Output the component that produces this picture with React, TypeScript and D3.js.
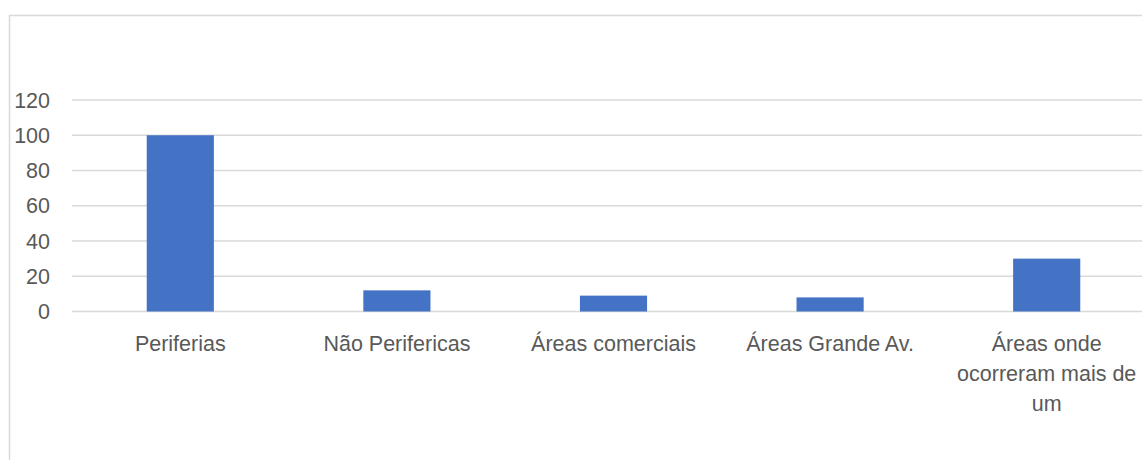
import React, { useEffect, useRef } from "react";
import * as d3 from "d3";

const categories = [
  "Periferias",
  "Não Perifericas",
  "Áreas comerciais",
  "Áreas Grande Av.",
  "Áreas onde ocorreram mais de um",
];
const values = [100, 12, 9, 8, 30];
const yTicks = [0, 20, 40, 60, 80, 100, 120];

const W = 1142;
const H = 460;
const FONT = "'Liberation Sans', Arial, sans-serif";
const FS = 21.5;

export default function App() {
  const ref = useRef<SVGSVGElement>(null);

  useEffect(() => {
    const svg = d3.select(ref.current);
    svg.selectAll("*").remove();

    // chart frame (extends beyond right/bottom)
    svg
      .append("rect")
      .attr("x", 9.5)
      .attr("y", 15.5)
      .attr("width", W + 20)
      .attr("height", H + 20)
      .attr("fill", "#fff")
      .attr("stroke", "#d9d9d9")
      .attr("stroke-width", 1.5);

    const left = 72;
    const right = 1155;
    const y0 = 311.5;
    const yTop = 100;

    const x = d3.scaleBand<string>().domain(categories).range([left, right]).paddingInner(0.69).paddingOuter(0.345);
    const y = d3.scaleLinear().domain([0, 120]).range([y0, yTop]);

    const g = svg.append("g");

    g.selectAll("line.grid")
      .data(yTicks)
      .join("line")
      .attr("class", "grid")
      .attr("x1", left)
      .attr("x2", W)
      .attr("y1", (d) => y(d))
      .attr("y2", (d) => y(d))
      .attr("stroke", "#d9d9d9")
      .attr("stroke-width", 1.5);

    g.selectAll("text.ytick")
      .data(yTicks)
      .join("text")
      .attr("class", "ytick")
      .attr("x", 50)
      .attr("y", (d) => y(d))
      .attr("dy", "0.36em")
      .attr("text-anchor", "end")
      .attr("fill", "#595959")
      .attr("font-family", FONT)
      .attr("font-size", FS)
      .text((d) => String(d));

    g.selectAll("rect.bar")
      .data(values)
      .join("rect")
      .attr("class", "bar")
      .attr("x", (_, i) => x(categories[i])!)
      .attr("width", x.bandwidth())
      .attr("y", (d) => y(d))
      .attr("height", (d) => y0 - y(d))
      .attr("fill", "#4472c4");

    const maxW = 200;
    categories.forEach((c) => {
      const cx = x(c)! + x.bandwidth() / 2;
      const t = g
        .append("text")
        .attr("x", cx)
        .attr("y", 351)
        .attr("text-anchor", "middle")
        .attr("fill", "#595959")
        .attr("font-family", FONT)
        .attr("font-size", FS);
      const words = c.split(" ");
      let line: string[] = [];
      let ts = t.append("tspan").attr("x", cx).attr("dy", 0);
      for (const w of words) {
        line.push(w);
        ts.text(line.join(" "));
        if ((ts.node() as SVGTSpanElement).getComputedTextLength() > maxW && line.length > 1) {
          line.pop();
          ts.text(line.join(" "));
          line = [w];
          ts = t.append("tspan").attr("x", cx).attr("dy", 30).text(w);
        }
      }
    });
  }, []);

  return (
    <svg
      ref={ref}
      width={W}
      height={H}
      style={{ position: "absolute", left: 0, top: 0, display: "block", background: "#fff" }}
    />
  );
}
